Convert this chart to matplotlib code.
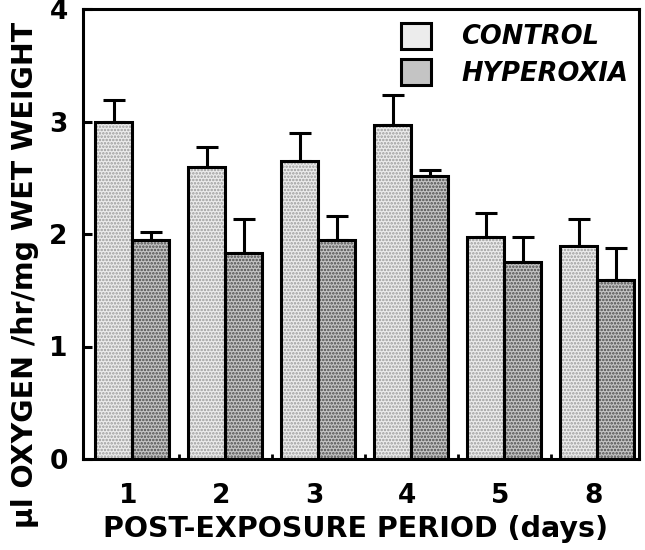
import matplotlib
matplotlib.use("Agg")
import matplotlib.pyplot as plt
import numpy as np
from matplotlib.transforms import ScaledTranslation

plt.rcParams['font.family'] = ['DejaVu Sans']
plt.rcParams['hatch.linewidth'] = 1.2

categories = ["1", "2", "3", "4", "5", "8"]
control = [3.00, 2.60, 2.65, 2.97, 1.97, 1.89]
control_err = [0.19, 0.17, 0.25, 0.27, 0.22, 0.24]
hyperoxia = [1.95, 1.83, 1.95, 2.52, 1.75, 1.59]
hyperoxia_err = [0.07, 0.30, 0.21, 0.05, 0.22, 0.29]

fig = plt.figure(figsize=(6.45, 5.5), dpi=100)
ax = fig.add_axes([83/645, 1-459/550, (639-83)/645, (459-9)/550])

x = np.arange(len(categories))
w = 0.40
lw = 2.2

def draw(xpos, vals, face, hatchcol, label):
    ax.bar(xpos, vals, w, color=face, edgecolor=hatchcol, hatch='.....', linewidth=0, zorder=2)
    return ax.bar(xpos, vals, w, fill=False, edgecolor='black', linewidth=lw, zorder=3, label=label)

hc = draw(x - w/2, control, '#ececec', '#9a9a9a', 'CONTROL')
hh = draw(x + w/2, hyperoxia, '#c4c4c4', '#4a4a4a', 'HYPEROXIA')

ax.errorbar(x - w/2, control, yerr=[np.zeros(len(x)), control_err], fmt='none',
            ecolor='black', elinewidth=lw, capsize=8, capthick=lw, zorder=1)
ax.errorbar(x + w/2, hyperoxia, yerr=[np.zeros(len(x)), hyperoxia_err], fmt='none',
            ecolor='black', elinewidth=lw, capsize=8, capthick=lw, zorder=1)

ax.set_xlim(-0.53, 5.45)
ax.set_ylim(0, 4)
ax.set_yticks([0, 1, 2, 3, 4])
ax.set_xticks(x)
ax.set_xticklabels(categories)
ax.set_xticks(x[:-1] + 0.5, minor=True)
ax.tick_params(axis='x', which='major', length=0, pad=17, labelsize=19)
ax.tick_params(axis='x', which='minor', direction='in', length=3.5, width=2)
ax.tick_params(axis='y', direction='in', length=6.5, width=lw, pad=11, labelsize=19)
for lab in ax.get_xticklabels():
    lab.set_fontweight('bold')
    lab.set_transform(lab.get_transform() + ScaledTranslation(-4/100, 0, fig.dpi_scale_trans))
for lab in ax.get_yticklabels():
    lab.set_fontweight('bold')

for s in ax.spines.values():
    s.set_linewidth(lw)

ax.set_xlabel('POST-EXPOSURE PERIOD (days)', fontsize=20.5, fontweight='bold')
ax.xaxis.set_label_coords(0.49, -0.125)
ax.xaxis.label.set_va('top')
ax.set_ylabel('μl OXYGEN /hr/mg WET WEIGHT', fontsize=20.5, fontweight='bold')
ax.yaxis.set_label_coords(-0.08, 0.41)

leg = ax.legend(handles=[hc, hh], loc='upper left', bbox_to_anchor=(401/645, 1-23/550),
                bbox_transform=fig.transFigure, frameon=False,
                prop={'size': 18.5, 'weight': 'bold', 'style': 'italic'},
                handlelength=1.15, handleheight=1.15, handletextpad=1.2,
                labelspacing=0.35, borderpad=0, borderaxespad=0)
for p, src in zip(leg.get_patches(), ['#ececec', '#c4c4c4']):
    p.set_facecolor(src)
    p.set_fill(True)

fig.savefig('out.png', dpi=100)
